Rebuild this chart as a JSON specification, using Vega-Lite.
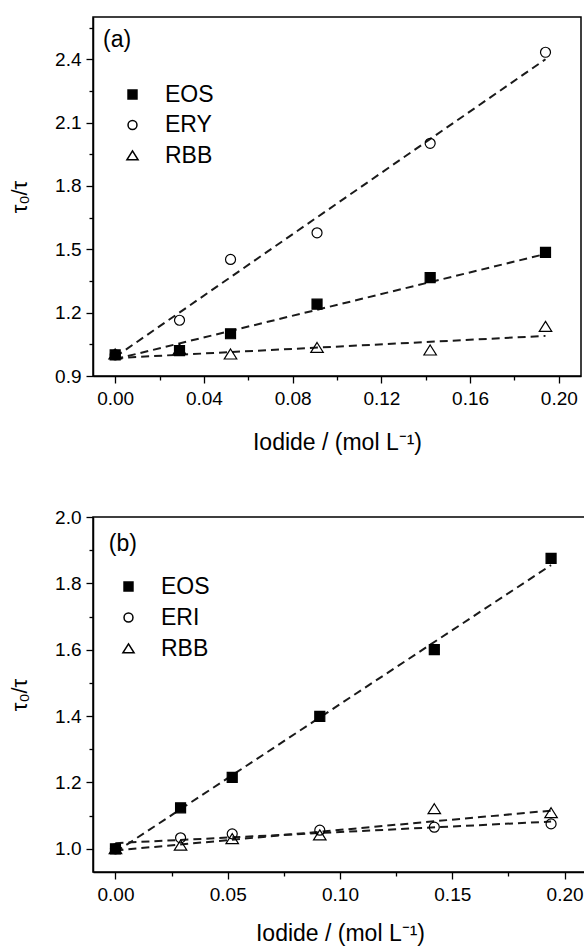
{
  "$schema": "https://vega.github.io/schema/vega-lite/v6.json",
  "padding": {"left": 7, "top": 16, "right": 0, "bottom": 0},
  "background": "white",
  "config": {
    "font": "Liberation Sans",
    "view": {"stroke": "black", "strokeWidth": 1.5},
    "axis": {
      "grid": false,
      "domainColor": "black",
      "domainWidth": 1.5,
      "tickColor": "black",
      "tickWidth": 1.3,
      "labelColor": "black",
      "titleColor": "black",
      "labelFont": "Liberation Sans",
      "titleFont": "Liberation Sans",
      "labelFontSize": 19,
      "titleFontSize": 23,
      "titleFontWeight": "normal"
    },
    "legend": {
      "orient": "none",
      "padding": 0,
      "labelFont": "Liberation Sans",
      "labelFontSize": 23,
      "labelColor": "black",
      "symbolSize": 80,
      "rowPadding": 6.5,
      "labelOffset": 21
    }
  },
  "datasets": {
    "a_pts": [
      {"x": 0.0, "y": 1.0, "series": "EOS"},
      {"x": 0.029, "y": 1.02, "series": "EOS"},
      {"x": 0.052, "y": 1.10, "series": "EOS"},
      {"x": 0.091, "y": 1.24, "series": "EOS"},
      {"x": 0.142, "y": 1.366, "series": "EOS"},
      {"x": 0.194, "y": 1.485, "series": "EOS"},
      {"x": 0.0, "y": 1.0, "series": "ERY"},
      {"x": 0.029, "y": 1.164, "series": "ERY"},
      {"x": 0.052, "y": 1.452, "series": "ERY"},
      {"x": 0.091, "y": 1.578, "series": "ERY"},
      {"x": 0.142, "y": 2.002, "series": "ERY"},
      {"x": 0.194, "y": 2.433, "series": "ERY"},
      {"x": 0.0, "y": 1.003, "series": "RBB"},
      {"x": 0.029, "y": 1.026, "series": "RBB"},
      {"x": 0.052, "y": 1.003, "series": "RBB"},
      {"x": 0.091, "y": 1.034, "series": "RBB"},
      {"x": 0.142, "y": 1.022, "series": "RBB"},
      {"x": 0.194, "y": 1.134, "series": "RBB"}
    ],
    "a_fit": [
      {"x": 0.0, "y": 0.98, "series": "EOS"},
      {"x": 0.194, "y": 1.478, "series": "EOS"},
      {"x": 0.0, "y": 0.99, "series": "ERY"},
      {"x": 0.194, "y": 2.40, "series": "ERY"},
      {"x": 0.0, "y": 0.985, "series": "RBB"},
      {"x": 0.194, "y": 1.09, "series": "RBB"}
    ],
    "a_lab": [{"x": -0.0055, "y": 2.49, "label": "(a)"}],
    "b_pts": [
      {"x": 0.0, "y": 1.0, "series": "EOS"},
      {"x": 0.029, "y": 1.1235, "series": "EOS"},
      {"x": 0.052, "y": 1.215, "series": "EOS"},
      {"x": 0.091, "y": 1.399, "series": "EOS"},
      {"x": 0.142, "y": 1.60, "series": "EOS"},
      {"x": 0.194, "y": 1.875, "series": "EOS"},
      {"x": 0.0, "y": 1.0, "series": "ERI"},
      {"x": 0.029, "y": 1.033, "series": "ERI"},
      {"x": 0.052, "y": 1.045, "series": "ERI"},
      {"x": 0.091, "y": 1.056, "series": "ERI"},
      {"x": 0.142, "y": 1.065, "series": "ERI"},
      {"x": 0.194, "y": 1.075, "series": "ERI"},
      {"x": 0.0, "y": 1.0, "series": "RBB"},
      {"x": 0.029, "y": 1.01, "series": "RBB"},
      {"x": 0.052, "y": 1.03, "series": "RBB"},
      {"x": 0.091, "y": 1.041, "series": "RBB"},
      {"x": 0.142, "y": 1.12, "series": "RBB"},
      {"x": 0.194, "y": 1.108, "series": "RBB"}
    ],
    "b_fit": [
      {"x": 0.0, "y": 0.99, "series": "EOS"},
      {"x": 0.194, "y": 1.855, "series": "EOS"},
      {"x": 0.0, "y": 1.017, "series": "ERI"},
      {"x": 0.194, "y": 1.082, "series": "ERI"},
      {"x": 0.0, "y": 0.995, "series": "RBB"},
      {"x": 0.194, "y": 1.115, "series": "RBB"}
    ],
    "b_lab": [{"x": -0.003, "y": 1.92, "label": "(b)"}]
  },
  "spacing": 141,
  "bounds": "flush",
  "vconcat": [
    {
      "width": 488,
      "height": 359,
      "encoding": {
        "x": {
          "field": "x", "type": "quantitative",
          "scale": {"domain": [-0.01, 0.21], "nice": false, "zero": false},
          "axis": {
            "title": "Iodide / (mol L⁻¹)",
            "values": [0, 0.02, 0.04, 0.06, 0.08, 0.1, 0.12, 0.14, 0.16, 0.18, 0.2],
            "labelExpr": "round(datum.value*100) % 4 == 0 ? format(datum.value, '.2f') : ''",
            "tickSize": {"condition": {"test": "round(datum.value*100) % 4 == 0", "value": 7}, "value": 4},
            "labelPadding": 6,
            "titlePadding": 23,
            "labelFlush": false
          }
        },
        "y": {
          "field": "y", "type": "quantitative",
          "scale": {"domain": [0.9, 2.6], "nice": false, "zero": false},
          "axis": {
            "title": "τ₀/τ",
            "titleFontSize": 22,
            "values": [0.9, 1.05, 1.2, 1.35, 1.5, 1.65, 1.8, 1.95, 2.1, 2.25, 2.4, 2.55],
            "labelExpr": "round(datum.value*100-90) % 30 == 0 ? format(datum.value, '.1f') : ''",
            "tickSize": {"condition": {"test": "round(datum.value*100-90) % 30 == 0", "value": 7}, "value": 4},
            "labelPadding": 5,
            "titlePadding": 23,
            "labelFlush": false
          }
        }
      },
      "layer": [
        {
          "data": {"name": "a_fit"},
          "mark": {"type": "line", "strokeDash": [8, 5], "color": "#1a1a1a", "strokeWidth": 2},
          "encoding": {"detail": {"field": "series"}}
        },
        {
          "data": {"name": "a_pts"},
          "mark": {"type": "point", "size": 100, "stroke": "black", "strokeWidth": 1.2, "opacity": 1},
          "encoding": {
            "shape": {
              "field": "series", "type": "nominal",
              "scale": {"domain": ["EOS", "ERY", "RBB"], "range": ["square", "circle", "M0,-1.05L1.25,0.95L-1.25,0.95Z"]},
              "legend": {
                "title": null, "legendX": 28, "legendY": 66,
                "encode": {"symbols": {"update": {
                  "fill": [{"test": "datum.value === 'EOS'", "value": "black"}, {"value": "transparent"}],
                  "stroke": {"value": "black"},
                  "strokeWidth": {"value": 1.2},
                  "opacity": {"value": 1}
                }}}
              }
            },
            "fill": {
              "field": "series", "type": "nominal",
              "scale": {"domain": ["EOS", "ERY", "RBB"], "range": ["black", "transparent", "transparent"]},
              "legend": null
            }
          }
        },
        {
          "data": {"name": "a_lab"},
          "mark": {"type": "text", "align": "left", "baseline": "middle", "fontSize": 23, "font": "Liberation Sans", "color": "black"},
          "encoding": {"text": {"field": "label"}}
        }
      ]
    },
    {
      "width": 494,
      "height": 355,
      "encoding": {
        "x": {
          "field": "x", "type": "quantitative",
          "scale": {"domain": [-0.01, 0.21], "nice": false, "zero": false},
          "axis": {
            "title": "Iodide / (mol L⁻¹)",
            "values": [0, 0.025, 0.05, 0.075, 0.1, 0.125, 0.15, 0.175, 0.2],
            "labelExpr": "round(datum.value*1000) % 50 == 0 ? format(datum.value, '.2f') : ''",
            "tickSize": {"condition": {"test": "round(datum.value*1000) % 50 == 0", "value": 7}, "value": 4},
            "labelPadding": 6,
            "titlePadding": 18,
            "labelFlush": false
          }
        },
        "y": {
          "field": "y", "type": "quantitative",
          "scale": {"domain": [0.93, 2.0], "nice": false, "zero": false},
          "axis": {
            "title": "τ₀/τ",
            "titleFontSize": 22,
            "values": [1.0, 1.1, 1.2, 1.3, 1.4, 1.5, 1.6, 1.7, 1.8, 1.9, 2.0],
            "labelExpr": "round(datum.value*10) % 2 == 0 ? format(datum.value, '.1f') : ''",
            "tickSize": {"condition": {"test": "round(datum.value*10) % 2 == 0", "value": 7}, "value": 4},
            "labelPadding": 5,
            "titlePadding": 23,
            "labelFlush": false
          }
        }
      },
      "layer": [
        {
          "data": {"name": "b_fit"},
          "mark": {"type": "line", "strokeDash": [8, 5], "color": "#1a1a1a", "strokeWidth": 2},
          "encoding": {"detail": {"field": "series"}}
        },
        {
          "data": {"name": "b_pts"},
          "mark": {"type": "point", "size": 100, "stroke": "black", "strokeWidth": 1.2, "opacity": 1},
          "encoding": {
            "shape": {
              "field": "series", "type": "nominal",
              "scale": {"domain": ["EOS", "ERI", "RBB"], "range": ["square", "circle", "M0,-1.05L1.25,0.95L-1.25,0.95Z"]},
              "legend": {
                "title": null, "legendX": 24, "legendY": 58, "rowPadding": 7,
                "encode": {"symbols": {"update": {
                  "fill": [{"test": "datum.value === 'EOS'", "value": "black"}, {"value": "transparent"}],
                  "stroke": {"value": "black"},
                  "strokeWidth": {"value": 1.2},
                  "opacity": {"value": 1}
                }}}
              }
            },
            "fill": {
              "field": "series", "type": "nominal",
              "scale": {"domain": ["EOS", "ERI", "RBB"], "range": ["black", "transparent", "transparent"]},
              "legend": null
            }
          }
        },
        {
          "data": {"name": "b_lab"},
          "mark": {"type": "text", "align": "left", "baseline": "middle", "fontSize": 23, "font": "Liberation Sans", "color": "black"},
          "encoding": {"text": {"field": "label"}}
        }
      ]
    }
  ],
  "resolve": {"scale": {"shape": "independent", "fill": "independent", "x": "independent", "y": "independent"}, "legend": {"shape": "independent", "fill": "independent"}}
}
